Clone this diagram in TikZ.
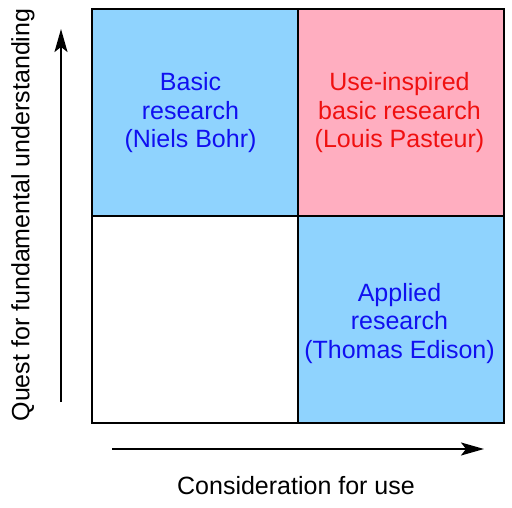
\documentclass[tikz,border=0pt]{standalone}
\usepackage{fontspec}
\setmainfont{Liberation Sans}
\usetikzlibrary{arrows.meta}
\definecolor{cellblue}{HTML}{8FD3FE}
\definecolor{cellpink}{HTML}{FFAEC0}
\definecolor{txtblue}{HTML}{1010F0}
\definecolor{txtred}{HTML}{F01010}
\begin{document}
\begin{tikzpicture}[x=1pt,y=-1pt,
  cell/.style={draw=black,line width=2pt,minimum width=206pt,minimum height=206.5pt,inner sep=0pt,anchor=north west},
  celltext/.style={align=center,font=\fontsize{25}{28.5}\selectfont},
  axarrow/.style={line width=2pt,-{Stealth[length=23pt,width=13pt,inset=5pt]}},
  axlabel/.style={font=\fontsize{25}{28}\selectfont}]
\useasboundingbox (0,0) rectangle (512,508);
\node[cell,fill=cellblue] (tl) at (90.5,8.5) {};
\node[cell,fill=cellpink] (tr) at (296.5,8.5) {};
\node[cell,fill=white] (bl) at (90.5,215) {};
\node[cell,fill=cellblue] (br) at (296.5,215) {};
\node[celltext,text=txtblue] (tlt) at (190.5,113) {Basic\\research\\(Niels Bohr)};
\node[celltext,text=txtred] (trt) at (399.5,113) {Use-inspired\\basic research\\(Louis Pasteur)};
\node[celltext,text=txtblue] (brt) at (399.5,323.5) {Applied\\research\\(Thomas Edison)};
\coordinate (vs) at (61,402);
\coordinate (ve) at (61,29);
\coordinate (hs) at (112,449);
\coordinate (he) at (484,449);
\draw[axarrow] (vs) -- (ve);
\draw[axarrow] (hs) -- (he);
\node[axlabel,rotate=90] (ylab) at (23,215) {Quest for fundamental understanding};
\node[axlabel] (xlab) at (296,486) {Consideration for use};
\end{tikzpicture}
\end{document}
